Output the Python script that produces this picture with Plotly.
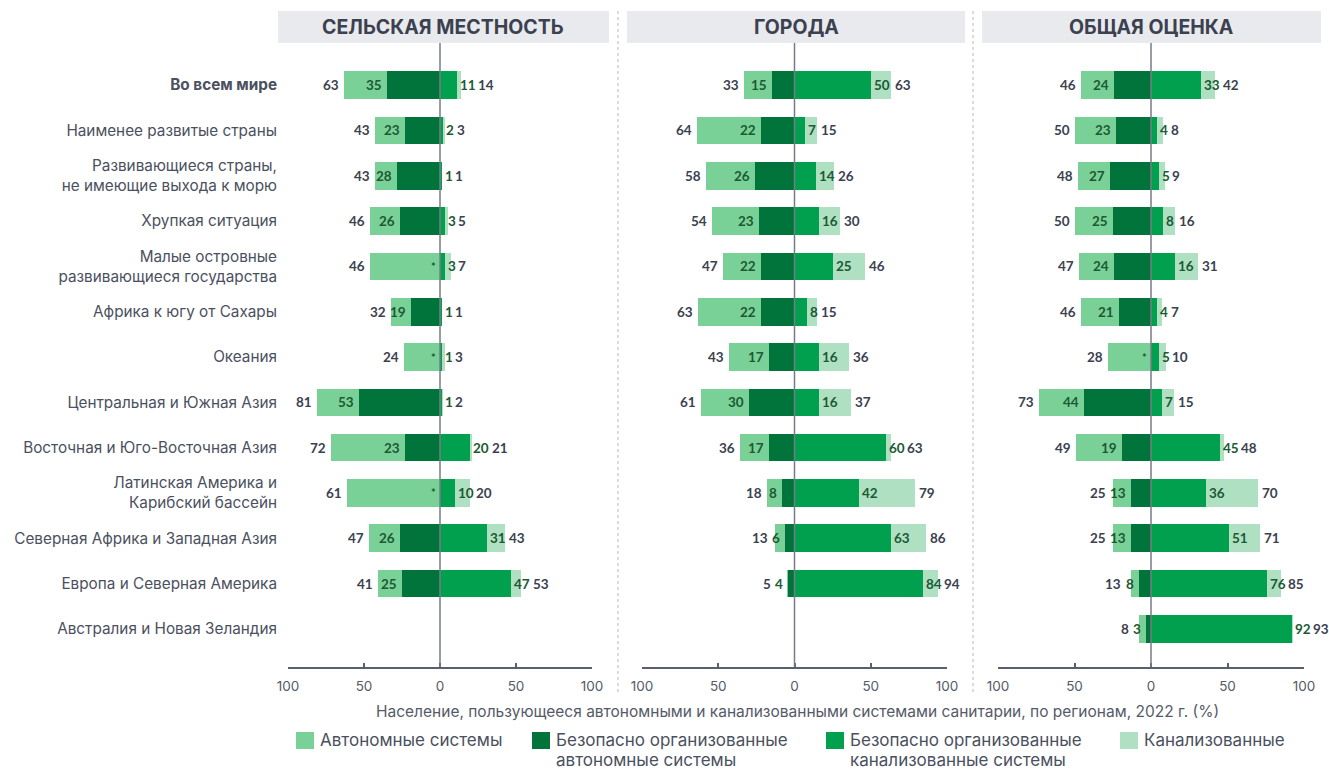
import plotly.graph_objects as go

# ---- data -------------------------------------------------------------
categories = [
    "<b>Во всем мире</b>",
    "Наименее развитые страны",
    "Развивающиеся страны,<br>не имеющие выхода к морю",
    "Хрупкая ситуация",
    "Малые островные<br>развивающиеся государства",
    "Африка к югу от Сахары",
    "Океания",
    "Центральная и Южная Азия",
    "Восточная и Юго-Восточная Азия",
    "Латинская Америка и<br>Карибский бассейн",
    "Северная Африка и Западная Азия",
    "Европа и Северная Америка",
    "Австралия и Новая Зеландия",
]
panel_titles = ["СЕЛЬСКАЯ МЕСТНОСТЬ", "ГОРОДА", "ОБЩАЯ ОЦЕНКА"]
series_names = [
    ["Автономные системы"],
    ["Безопасно организованные", "автономные системы"],
    ["Безопасно организованные", "канализованные системы"],
    ["Канализованные"],
]
tick_values = [-100, -50, 0, 50, 100]
tick_labels = ["100", "50", "0", "50", "100"]
axis_title = ("Население, пользующееся автономными и канализованными системами "
              "санитарии, по регионам, 2022 г. (%)")

# None = no data (a "*" marks a missing safely managed on-site value)
rural_onsite = [63, 43, 43, 46, 46, 32, 24, 81, 72, 61, 47, 41, None]
rural_onsite_safe = [35, 23, 28, 26, None, 19, None, 53, 23, None, 26, 25, None]
rural_sewer_safe = [11, 2, 1, 3, 3, 1, 1, 1, 20, 10, 31, 47, None]
rural_sewer = [14, 3, 1, 5, 7, 1, 3, 2, 21, 20, 43, 53, None]

urban_onsite = [33, 64, 58, 54, 47, 63, 43, 61, 36, 18, 13, 5, None]
urban_onsite_safe = [15, 22, 26, 23, 22, 22, 17, 30, 17, 8, 6, 4, None]
urban_sewer_safe = [50, 7, 14, 16, 25, 8, 16, 16, 60, 42, 63, 84, None]
urban_sewer = [63, 15, 26, 30, 46, 15, 36, 37, 63, 79, 86, 94, None]

total_onsite = [46, 50, 48, 50, 47, 46, 28, 73, 49, 25, 25, 13, 8]
total_onsite_safe = [24, 23, 27, 25, 24, 21, None, 44, 19, 13, 13, 8, 3]
total_sewer_safe = [33, 4, 5, 8, 16, 4, 5, 7, 45, 36, 51, 76, 92]
total_sewer = [42, 8, 9, 16, 31, 7, 10, 15, 48, 70, 71, 85, 93]

panels = [
    (rural_onsite, rural_onsite_safe, rural_sewer_safe, rural_sewer),
    (urban_onsite, urban_onsite_safe, urban_sewer_safe, urban_sewer),
    (total_onsite, total_onsite_safe, total_sewer_safe, total_sewer),
]

# ---- styling ----------------------------------------------------------
COL_ONSITE = "#7ad197"
COL_ONSITE_SAFE = "#00743a"
COL_SEWER_SAFE = "#00a04e"
COL_SEWER = "#afe0c2"
COLORS = [COL_ONSITE, COL_ONSITE_SAFE, COL_SEWER_SAFE, COL_SEWER]
TXT_DARK = "#3c4150"
TXT_GREEN = "#1b5a33"
TXT_MUTED = "#555a68"
FONT = "Inter"
NUM_FONT = "Lato"

W, H = 1329, 770
PLOT_TOP, PLOT_BOTTOM = 43, 667
PANEL_X = [(288, 592), (642, 947), (998, 1304)]
HEADER_X = [(278, 609), (627, 965), (982, 1321)]
HEADER_Y = (11, 43)
SEPARATORS_X = [618, 973]
BAR_W = 0.61
DIGIT_W = 7.6


def fx(p):
    return p / W


def fy(p):
    return 1 - p / H


def neg(vals):
    return [None if v is None else -v for v in vals]


rows = list(range(len(categories)))
fig = go.Figure()
annotations = []
shapes = []

for k, (onsite, onsite_safe, sewer_safe, sewer) in enumerate(panels):
    xa = "x" if k == 0 else f"x{k + 1}"
    layers = [neg(onsite), neg(onsite_safe), sewer, sewer_safe]
    layer_cols = [COL_ONSITE, COL_ONSITE_SAFE, COL_SEWER, COL_SEWER_SAFE]
    for vals, col in zip(layers, layer_cols):
        fig.add_trace(go.Bar(
            x=vals, y=rows, orientation="h", width=BAR_W,
            marker=dict(color=col, line=dict(width=0)),
            xaxis=xa, yaxis="y", showlegend=False, hoverinfo="x+y",
        ))

    scale = (PANEL_X[k][1] - PANEL_X[k][0]) / 200.0

    def label(x, y, text, color, anchor, shift, size=13.5):
        annotations.append(dict(
            x=x, y=y, xref=xa, yref="y", text=text, showarrow=False,
            xanchor=anchor, yanchor="middle", xshift=shift, borderpad=0,
            font=dict(family=NUM_FONT, size=size, color=color, weight=700),
        ))

    for i in rows:
        on, on_s, sw_s, sw = onsite[i], onsite_safe[i], sewer_safe[i], sewer[i]
        if on is None:
            continue
        # on-site side (left)
        if on_s is not None:
            s = str(on_s)
            r_safe = -on_s * scale - 4
            label(-on_s, i, s, TXT_GREEN, "right", -4)
            limit = r_safe - DIGIT_W * len(s) - 5
        else:
            label(0, i, "*", TXT_GREEN, "right", -3, size=11)
            limit = -12
        r_tot = min(-on * scale - 4, limit)
        label(-on, i, str(on), TXT_DARK, "right", r_tot + on * scale)
        # sewer side (right)
        l_safe = sw_s * scale + 2
        label(sw_s, i, str(sw_s), TXT_GREEN, "left", 2)
        l_tot = max(sw * scale + 3, l_safe + DIGIT_W * len(str(sw_s)) + 3)
        label(sw, i, str(sw), TXT_DARK, "left", l_tot - sw * scale)

    # zero line drawn over the bars
    shapes.append(dict(
        type="line", xref=xa, yref="paper", x0=0, x1=0,
        y0=fy(PLOT_BOTTOM), y1=fy(PLOT_TOP), layer="above",
        line=dict(color="#787b86", width=1.5),
    ))
    # panel header
    hx0, hx1 = HEADER_X[k]
    shapes.append(dict(
        type="rect", xref="paper", yref="paper", layer="below",
        x0=fx(hx0), x1=fx(hx1), y0=fy(HEADER_Y[1]), y1=fy(HEADER_Y[0]),
        fillcolor="#e9eaee", line=dict(width=0),
    ))
    annotations.append(dict(
        x=fx((hx0 + hx1) / 2), y=fy((HEADER_Y[0] + HEADER_Y[1]) / 2),
        xref="paper", yref="paper", text=panel_titles[k], showarrow=False,
        xanchor="center", yanchor="middle",
        font=dict(family=FONT, size=19.5, color=TXT_DARK, weight=700),
    ))

# dotted separators between panels
for sx in SEPARATORS_X:
    shapes.append(dict(
        type="line", xref="paper", yref="paper", x0=fx(sx), x1=fx(sx),
        y0=fy(692), y1=fy(8), line=dict(color="#b4b7be", width=1, dash="dot"),
    ))

# x-axis title
annotations.append(dict(
    x=fx(798), y=fy(711), xref="paper", yref="paper", text=axis_title,
    showarrow=False, xanchor="center", yanchor="middle",
    font=dict(family=FONT, size=15.5, color=TXT_MUTED),
))

# legend
LEG_X = [296, 532, 826, 1120]
LEG_LINE_Y = [740, 760]
for lx, lines, col in zip(LEG_X, series_names, COLORS):
    shapes.append(dict(
        type="rect", xref="paper", yref="paper",
        x0=fx(lx), x1=fx(lx + 18), y0=fy(749), y1=fy(732),
        fillcolor=col, line=dict(width=0),
    ))
    for line_text, ly in zip(lines, LEG_LINE_Y):
        annotations.append(dict(
            x=fx(lx + 23), y=fy(ly), xref="paper", yref="paper",
            text=line_text, showarrow=False, xanchor="left",
            yanchor="middle", align="left", borderpad=0,
            font=dict(family=FONT, size=17, color="#4b5060"),
        ))

axis_common = dict(
    range=[-100, 100], anchor="y", showgrid=False, zeroline=False,
    showline=True, linecolor="#5a5f6e", linewidth=1.5, automargin=False,
    ticks="inside", ticklen=4, tickwidth=2, tickcolor="#5a5f6e",
    tickvals=tick_values, ticktext=tick_labels, ticklabelstandoff=6,
    tickfont=dict(family=FONT, size=13.5, color=TXT_MUTED), fixedrange=True,
)

layout = dict(
    width=W, height=H, margin=dict(l=0, r=0, t=0, b=0, autoexpand=False),
    paper_bgcolor="white", plot_bgcolor="white",
    barmode="overlay", bargap=0, showlegend=False,
    yaxis=dict(
        domain=[fy(PLOT_BOTTOM), fy(PLOT_TOP)], range=[12.84, -0.93],
        anchor="x", tickvals=rows, ticktext=categories, automargin=False,
        showgrid=False, zeroline=False, showline=False, ticks="",
        ticklabelstandoff=10,
        tickfont=dict(family=FONT, size=15.3, color="#4b5060"), fixedrange=True,
    ),
    annotations=annotations, shapes=shapes,
)
for k, (x0, x1) in enumerate(PANEL_X):
    key = "xaxis" if k == 0 else f"xaxis{k + 1}"
    layout[key] = dict(axis_common, domain=[fx(x0), fx(x1)])

fig.update_layout(**layout)
fig.write_html("out.html")
